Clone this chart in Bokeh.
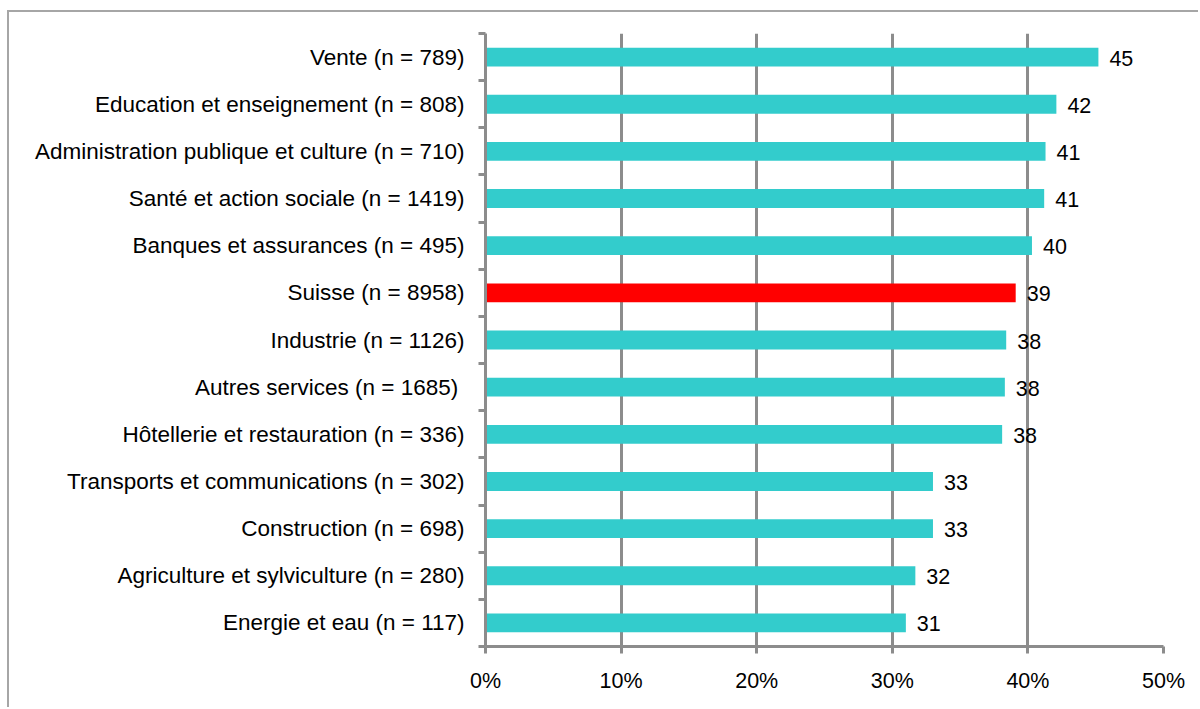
from bokeh.plotting import figure
from bokeh.models import Range1d, FixedTicker, PrintfTickFormatter, ColumnDataSource
from bokeh.core.properties import value
from bokeh.embed import file_html
from bokeh.resources import INLINE

categories = [
    "Vente (n = 789)",
    "Education et enseignement (n = 808)",
    "Administration publique et culture (n = 710)",
    "Santé et action sociale (n = 1419)",
    "Banques et assurances (n = 495)",
    "Suisse (n = 8958)",
    "Industrie (n = 1126)",
    "Autres services  (n = 1685)",
    "Hôtellerie et restauration (n = 336)",
    "Transports et communications (n = 302)",
    "Construction (n = 698)",
    "Agriculture et sylviculture (n = 280)",
    "Energie et eau (n = 117)",
]
values = [45.2, 42.1, 41.3, 41.2, 40.3, 39.1, 38.4, 38.3, 38.1, 33.0, 33.0, 31.7, 31.0]
labels = ["45", "42", "41", "41", "40", "39", "38", "38", "38", "33", "33", "32", "31"]
x_ticks = [0, 10, 20, 30, 40, 50]

FONT = "Liberation Sans"
GRAY = "#8c8c8c"
n = len(categories)
ys = [n - 1 - i for i in range(n)]
colors = ["#FF0000" if c.startswith("Suisse") else "#33CCCC" for c in categories]

src = ColumnDataSource(dict(y=ys, v=values, lab=labels, col=colors))

p = figure(width=1191, height=697, output_backend="svg", toolbar_location=None,
           x_range=Range1d(0, 50), y_range=Range1d(-0.5, n - 0.5),
           min_border_left=476, min_border_right=37, min_border_top=21, min_border_bottom=63)
p.styles = {"border-left": "2px solid #a6a6a6", "border-top": "2px solid #a6a6a6",
            "margin-left": "7px", "margin-top": "10px"}
p.outline_line_color = None
p.background_fill_color = "white"
p.border_fill_color = "white"

p.hbar(y="y", left=0, right="v", height=0.4, fill_color="col", line_color=None, source=src)
p.text(x="v", y="y", text="lab", x_offset=11, y_offset=1, text_baseline="middle", text_align="left",
       text_font=value(FONT), text_font_size="21.5px", text_color="black", source=src)

p.ygrid.grid_line_color = None
p.xgrid.grid_line_color = GRAY
p.xgrid.grid_line_width = 3
p.xgrid.ticker = FixedTicker(ticks=x_ticks)

xa = p.xaxis[0]
xa.ticker = FixedTicker(ticks=x_ticks)
xa.formatter = PrintfTickFormatter(format="%d%%")
xa.axis_line_color = GRAY
xa.axis_line_width = 3
xa.major_tick_line_color = GRAY
xa.major_tick_line_width = 3
xa.major_tick_out = 7
xa.major_tick_in = 0
xa.minor_tick_line_color = None
xa.major_label_standoff = 15
xa.major_label_text_font = FONT
xa.major_label_text_font_size = "21.5px"
xa.major_label_text_color = "black"

ya = p.yaxis[0]
ya.ticker = FixedTicker(ticks=ys, minor_ticks=[k - 0.5 for k in range(n + 1)])
ya.major_label_overrides = {y: c for y, c in zip(ys, categories)}
ya.axis_line_color = GRAY
ya.axis_line_width = 3
ya.major_tick_line_color = None
ya.major_tick_out = 0
ya.major_tick_in = 0
ya.minor_tick_line_color = GRAY
ya.minor_tick_line_width = 3
ya.minor_tick_out = 7
ya.minor_tick_in = 0
ya.major_label_standoff = 14
ya.major_label_text_font = FONT
ya.major_label_text_font_size = "22.5px"
ya.major_label_text_color = "black"

open("out.html", "w").write(file_html(p, INLINE))
